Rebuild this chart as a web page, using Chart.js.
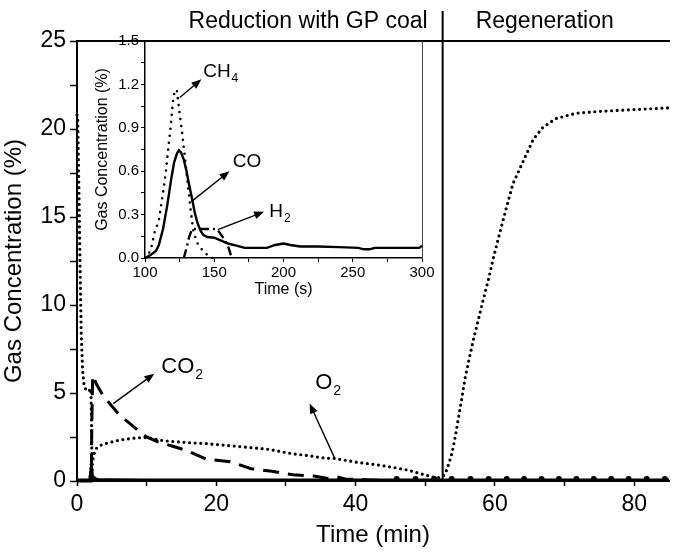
<!DOCTYPE html>
<html>
<head>
<meta charset="utf-8">
<script src="https://cdn.jsdelivr.net/npm/chart.js@4.4.0/dist/chart.umd.min.js"></script>
<style>
  html, body { margin: 0; padding: 0; background: #fff; }
  #wrap { position: relative; width: 673px; height: 552px; overflow: hidden; }
  #main { position: absolute; left: 0; top: 0; }
  #inset { position: absolute; left: 90px; top: 30px; }
</style>
</head>
<body>
<div id="wrap">
  <canvas id="main" width="673" height="552"></canvas>
  <canvas id="inset" width="360" height="270"></canvas>
</div>
<script>
// ---- Main run: gas concentrations over the reduction / regeneration cycle (time in min) ----
const o2Time = [0, 0.1, 0.3, 0.45, 0.6, 0.8, 1.0, 1.3, 1.7, 2.0,
  2.1, 2.15, 2.2, 2.4, 2.8, 3.5, 4.2, 6.1, 8.5, 9.9,
  11.8, 13.2, 16.6, 18, 21.3, 24, 27.5, 30.9, 33, 35.6,
  37, 40.4, 43, 45, 47.5, 50, 51.3, 52.2, 52.6, 52.9,
  53.4, 53.85, 54.3, 54.8, 55.3, 55.7, 56.45, 56.9, 57.4, 58.2,
  59.1, 59.8, 60.7, 61.7, 62.6, 64.1, 65.5, 66.9, 68.8, 71.7,
  75, 79.7, 85];
const o2Conc = [20.8, 20.6, 16, 12, 8.5, 6.3, 5.5, 5.15, 5.1, 5.25,
  3.0, 0.3, 1.0, 1.5, 1.86, 2.05, 2.14, 2.33, 2.45, 2.47,
  2.33, 2.26, 2.16, 2.14, 2.03, 1.93, 1.8, 1.55, 1.45, 1.3,
  1.28, 1.05, 0.92, 0.8, 0.62, 0.34, 0.2, 0.2, 0.3, 0.44,
  1.0, 1.6, 2.5, 3.65, 4.8, 5.8, 7.2, 8.0, 8.8, 10.1,
  11.5, 12.7, 14.1, 15.6, 16.9, 18.2, 19.4, 20.1, 20.6, 20.9,
  21.0, 21.1, 21.2];

const co2Time = [0, 2.05, 2.12, 2.25, 2.8, 3.75, 4.9, 6.1, 8.7, 9.9,
  11.6, 13.5, 15.6, 18.5, 22, 25, 28, 31, 34, 36,
  37.2, 38.5, 40, 42, 44, 52.5, 85];
const co2Conc = [0, 0, 3.0, 6.0, 5.5, 4.85, 4.3, 3.75, 2.9, 2.52,
  2.23, 2.0, 1.75, 1.25, 1.1, 0.7, 0.55, 0.35, 0.28, 0.15,
  0.25, 0.11, 0.1, 0.06, 0.03, 0.03, 0.03];

const coTime = [0, 1.7, 1.85, 1.95, 2.07, 2.2, 2.4, 3, 5, 10, 20, 30, 40, 52.5, 60, 70, 85];
const coConc = [0.05, 0.05, 0.1, 0.4, 0.75, 0.3, 0.15, 0.09, 0.07, 0.06, 0.05, 0.05, 0.05, 0.05, 0.05, 0.05, 0.05];

const ch4Time = [0, 1.75, 1.9, 2.03, 2.15, 2.3, 2.5];
const ch4Conc = [0, 0.05, 0.5, 1.17, 0.6, 0.1, 0];

const h2Time = [2.13, 2.23, 2.5, 2.7];
const h2Conc = [0, 0.2, 0.2, 0];

// sparse samples riding on the baseline late in the run
const baseDotTime = [45.9, 48.6, 51.3, 53.8, 56.5, 59.1, 61.7, 64.2, 66.7, 69.2, 71.7, 74.2, 76.7, 79.2, 81.8, 84.4];
const baseDotConc = [0.12, 0.12, 0.12, 0.12, 0.12, 0.12, 0.12, 0.12, 0.12, 0.12, 0.12, 0.12, 0.12, 0.12, 0.12, 0.12];

const switchTime = 52.5;               // reduction -> regeneration
const mainXLabels = [0, 20, 40, 60, 80];
const mainYLabels = [0, 5, 10, 15, 20, 25];

// ---- Inset: first minutes of reduction (time in s) ----
const insetCoTime = [100, 104, 108, 110, 113, 116, 119, 121, 123, 124.5,
  126, 128, 130, 132, 134, 136, 138, 140, 142, 145,
  150, 155, 160, 166, 172, 180, 188, 194, 200, 205,
  212, 225, 240, 254, 258, 262, 266, 290, 298, 300];
const insetCoConc = [0, 0.02, 0.05, 0.09, 0.2, 0.36, 0.55, 0.66, 0.72, 0.745,
  0.73, 0.68, 0.6, 0.5, 0.41, 0.31, 0.24, 0.19, 0.16, 0.145,
  0.14, 0.12, 0.1, 0.085, 0.07, 0.07, 0.07, 0.09, 0.1, 0.09,
  0.08, 0.08, 0.075, 0.07, 0.06, 0.06, 0.07, 0.07, 0.07, 0.085];

const insetCh4Time = [100, 104, 107, 110, 113, 115, 117, 118.5, 120, 121.5,
  123, 125, 127, 129, 131, 133, 135, 138, 141, 144, 148, 152];
const insetCh4Conc = [0, 0.05, 0.18, 0.26, 0.45, 0.59, 0.78, 0.9, 1.07, 1.16,
  1.16, 1.0, 0.85, 0.68, 0.5, 0.33, 0.18, 0.1, 0.06, 0.03, 0, 0];

const insetH2Time = [128, 130, 132, 134, 138, 145, 152, 155, 158, 160, 162, 163];
const insetH2Conc = [0, 0.07, 0.15, 0.2, 0.2, 0.2, 0.2, 0.16, 0.12, 0.08, 0.02, 0];

const insetXLabels = [100, 150, 200, 250, 300];
const insetYLabels = [0, 0.3, 0.6, 0.9, 1.2, 1.5];

// ---- helpers ----
const FONT = "'Liberation Sans', Arial, Helvetica, sans-serif";
const pts = (xs, ys) => xs.map((x, i) => ({ x, y: ys[i] }));

function arrow(ctx, x1, y1, x2, y2) {
  const a = Math.atan2(y2 - y1, x2 - x1);
  const head = 10, half = 4;
  ctx.save();
  ctx.strokeStyle = '#000'; ctx.fillStyle = '#000'; ctx.lineWidth = 1.4;
  ctx.beginPath();
  ctx.moveTo(x1, y1);
  ctx.lineTo(x2 - head * 0.8 * Math.cos(a), y2 - head * 0.8 * Math.sin(a));
  ctx.stroke();
  ctx.beginPath();
  ctx.moveTo(x2, y2);
  ctx.lineTo(x2 - head * Math.cos(a) + half * Math.sin(a), y2 - head * Math.sin(a) - half * Math.cos(a));
  ctx.lineTo(x2 - head * Math.cos(a) - half * Math.sin(a), y2 - head * Math.sin(a) + half * Math.cos(a));
  ctx.closePath(); ctx.fill();
  ctx.restore();
}

function subText(ctx, x, y, main, sub, size) {
  ctx.save();
  ctx.fillStyle = '#000';
  ctx.textAlign = 'left'; ctx.textBaseline = 'middle';
  ctx.font = size + 'px ' + FONT;
  ctx.fillText(main, x, y);
  const w = ctx.measureText(main).width;
  if (sub) {
    ctx.font = Math.round(size * 0.62) + 'px ' + FONT;
    ctx.fillText(sub, x + w + 1, y + size * 0.38);
  }
  ctx.restore();
}

// labelled arrows, placed in data units
const mainNotes = [
  { text: 'CO', sub: '2', from: [5.2, 4.4], to: [11.1, 6.1], at: [12.1, 6.5] },
  { text: 'O', sub: '2', from: [37, 1.3], to: [33.4, 4.4], at: [34.2, 5.6] }
];
const insetNotes = [
  { text: 'CH', sub: '4', from: [125.1, 1.11], to: [140.7, 1.235], at: [142, 1.29] },
  { text: 'CO', sub: '', from: [133.5, 0.39], to: [161, 0.6], at: [163.4, 0.665] },
  { text: 'H', sub: '2', from: [152.6, 0.196], to: [186, 0.32], at: [189.7, 0.32] }
];

function notesPlugin(notes, size) {
  return {
    id: 'notes',
    afterDraw(chart) {
      const { ctx, scales: { x, y } } = chart;
      notes.forEach(n => {
        arrow(ctx, x.getPixelForValue(n.from[0]), y.getPixelForValue(n.from[1]),
                   x.getPixelForValue(n.to[0]), y.getPixelForValue(n.to[1]));
        subText(ctx, x.getPixelForValue(n.at[0]), y.getPixelForValue(n.at[1]), n.text, n.sub, size);
      });
    }
  };
}

// phase divider and its captions
const phasePlugin = {
  id: 'phase',
  afterDraw(chart) {
    const { ctx, chartArea, scales: { x } } = chart;
    const px = x.getPixelForValue(switchTime);
    ctx.save();
    ctx.strokeStyle = '#000'; ctx.lineWidth = 2;
    ctx.beginPath(); ctx.moveTo(px, chartArea.top - 30); ctx.lineTo(px, chartArea.bottom); ctx.stroke();
    ctx.fillStyle = '#000'; ctx.font = '23px ' + FONT; ctx.textBaseline = 'middle';
    ctx.textAlign = 'right'; ctx.fillText('Reduction with GP coal', px - 15, chartArea.top - 19);
    ctx.textAlign = 'left'; ctx.fillText('Regeneration', px + 33, chartArea.top - 19);
    ctx.restore();
  }
};

const dotted = (w, gap) => ({ borderWidth: w, borderDash: [0, gap], borderCapStyle: 'round' });

// ---- main chart ----
new Chart(document.getElementById('main'), {
  type: 'line',
  data: {
    datasets: [
      { label: 'O2', data: pts(o2Time, o2Conc), ...dotted(3.2, 5.6) },
      { label: 'CO2', data: pts(co2Time, co2Conc), borderWidth: 3, borderDash: [16, 9] },
      { label: 'CO', data: pts(coTime, coConc), borderWidth: 3 },
      { label: 'CH4', data: pts(ch4Time, ch4Conc), ...dotted(2.5, 4) },
      { label: 'H2', data: pts(h2Time, h2Conc), borderWidth: 2.5, borderDash: [8, 3, 2, 3] },
      { label: 'base', data: pts(baseDotTime, baseDotConc), showLine: false, pointRadius: 3,
        pointBackgroundColor: '#000', pointBorderWidth: 0 }
    ].map(d => Object.assign({ borderColor: '#000', backgroundColor: '#000', pointRadius: 0,
      fill: false, tension: 0, clip: 6, xAxisID: 'x', yAxisID: 'y' }, d))
  },
  options: {
    responsive: false, animation: false, events: [],
    layout: { padding: { top: 41, left: 0, right: 0, bottom: 0 } },
    plugins: { legend: { display: false }, tooltip: { enabled: false } },
    scales: {
      x: {
        type: 'linear', position: 'bottom', min: 0, max: 85,
        afterFit(s) { s.height = 71; },
        ticks: { stepSize: 10, includeBounds: false, autoSkip: false, maxRotation: 0, color: '#000',
          padding: 5, font: { family: FONT, size: 23 },
          callback: v => mainXLabels.includes(v) ? String(v) : '' },
        grid: { drawOnChartArea: false, tickLength: 5, tickColor: '#000', tickWidth: 1.5 },
        border: { color: '#000', width: 2 },
        title: { display: true, text: 'Time (min)', color: '#000', font: { family: FONT, size: 24 },
          padding: { top: 0, bottom: 2 } }
      },
      xTop: {
        type: 'linear', position: 'top', min: 0, max: 85,
        afterFit(s) { s.height = 0; },
        ticks: { display: false }, grid: { display: false, drawTicks: false },
        border: { color: '#000', width: 2 }
      },
      y: {
        type: 'linear', min: 0, max: 25,
        afterFit(s) { s.width = 77; },
        ticks: { stepSize: 2.5, autoSkip: false, color: '#000', padding: 4,
          font: { family: FONT, size: 23 },
          callback: v => mainYLabels.includes(v) ? String(v) : '' },
        grid: { drawOnChartArea: false, tickLength: 7, tickColor: '#000', tickWidth: 1.5 },
        border: { color: '#000', width: 2 },
        title: { display: true, text: 'Gas Concentration (%)', color: '#000',
          font: { family: FONT, size: 24 }, padding: 0 }
      }
    }
  },
  plugins: [phasePlugin, notesPlugin(mainNotes, 22)]
});

// ---- inset chart ----
new Chart(document.getElementById('inset'), {
  type: 'line',
  data: {
    datasets: [
      { label: 'CH4', data: pts(insetCh4Time, insetCh4Conc), ...dotted(2.6, 7) },
      { label: 'H2', data: pts(insetH2Time, insetH2Conc), borderWidth: 2.4, borderDash: [9, 4, 2, 4] },
      { label: 'CO', data: pts(insetCoTime, insetCoConc), borderWidth: 2.4 }
    ].map(d => Object.assign({ borderColor: '#000', pointRadius: 0, fill: false, tension: 0,
      clip: 4, xAxisID: 'x', yAxisID: 'y' }, d))
  },
  options: {
    responsive: false, animation: false, events: [],
    layout: { padding: { top: 11, left: 0, right: 28, bottom: 0 } },
    plugins: { legend: { display: false }, tooltip: { enabled: false } },
    scales: {
      x: {
        type: 'linear', position: 'bottom', min: 100, max: 300,
        afterFit(s) { s.height = 42; },
        ticks: { stepSize: 25, autoSkip: false, maxRotation: 0, color: '#000', padding: 2,
          font: { family: FONT, size: 15 },
          callback: v => insetXLabels.includes(v) ? String(v) : '' },
        grid: { drawOnChartArea: false, tickLength: 4, tickColor: '#000', tickWidth: 1 },
        border: { color: '#000', width: 1.5 },
        title: { display: true, text: 'Time (s)', color: '#000', font: { family: FONT, size: 16 },
          padding: { top: 0, bottom: 1 } }
      },
      y: {
        type: 'linear', min: 0, max: 1.5,
        afterFit(s) { s.width = 55; },
        ticks: { stepSize: 0.15, autoSkip: false, color: '#000', padding: 2,
          font: { family: FONT, size: 15 },
          callback: v => insetYLabels.some(l => Math.abs(l - v) < 1e-6) ? v.toFixed(1) : '' },
        grid: { drawOnChartArea: false, tickLength: 4, tickColor: '#000', tickWidth: 1 },
        border: { color: '#000', width: 1.5 },
        title: { display: true, text: 'Gas Concentration (%)', color: '#000',
          font: { family: FONT, size: 16 }, padding: { top: 3, bottom: 0 } }
      },
      yRight: {
        type: 'linear', position: 'right', min: 0, max: 1.5,
        afterFit(s) { s.width = 0; },
        ticks: { display: false }, grid: { display: false, drawTicks: false },
        border: { color: '#444', width: 1 }
      }
    }
  },
  plugins: [notesPlugin(insetNotes, 19)]
});
</script>
</body>
</html>
